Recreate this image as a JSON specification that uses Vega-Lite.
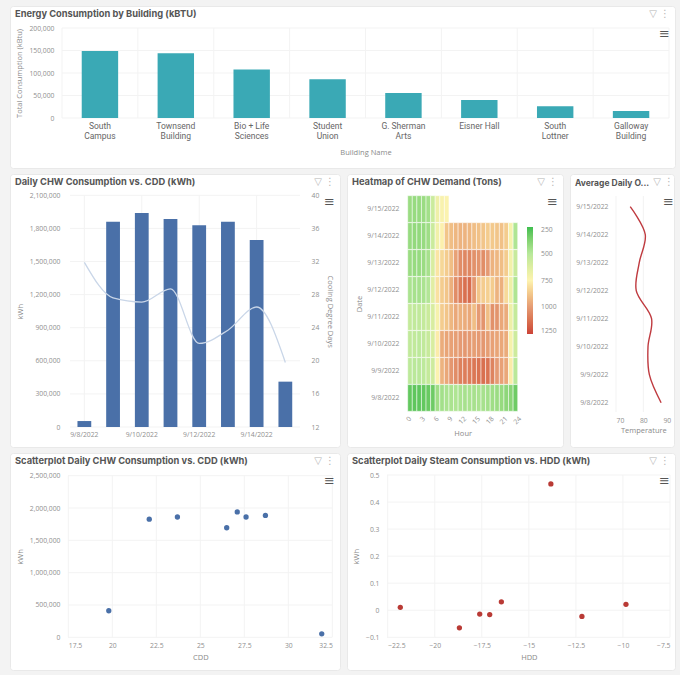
{
"$schema":"https://vega.github.io/schema/vega-lite/v6.json",
"background":"#f3f3f3",
"padding":{"left":9,"top":5,"right":6,"bottom":4},
"spacing":4,
"config":{
"view":{"fill":"white","stroke":"#e9e9e9","cornerRadius":3},
"axis":{"domain":false,"ticks":false,"grid":false,"labelFont":"Open Sans","labelFontSize":6.8,"labelColor":"#8f8f8f","titleFont":"Open Sans","titleFontSize":7.5,"titleColor":"#8a8a8a","titleFontWeight":"normal","labelOverlap":false,"labelPadding":3},
"title":{"anchor":"start","frame":"group","font":"Inter","fontSize":9.3,"fontWeight":"bold","color":"#555555","offset":-13,"dx":5,"baseline":"alphabetic"},
"rule":{"color":"#f3f3f3","strokeWidth":1},
"text":{"font":"DejaVu Sans"}
},
"datasets":{
"icons":[{"icon":"▽  ⋮","line":"top"},{"icon":"≡","line":"menu"}],
"daily":[
{"date":"9/8/2022","i":0,"kwh":54000,"cdd":31.9,"temp":86.5},
{"date":"9/9/2022","i":1,"kwh":1861000,"cdd":27.6,"temp":82.2},
{"date":"9/10/2022","i":2,"kwh":1940000,"cdd":27.1,"temp":81.7},
{"date":"9/11/2022","i":3,"kwh":1885000,"cdd":28.7,"temp":83},
{"date":"9/12/2022","i":4,"kwh":1828000,"cdd":22.1,"temp":77.4},
{"date":"9/13/2022","i":5,"kwh":1861000,"cdd":23.7,"temp":78.5},
{"date":"9/14/2022","i":6,"kwh":1695000,"cdd":26.5,"temp":80.7},
{"date":"9/15/2022","i":7,"kwh":411000,"cdd":19.8,"temp":75.2}
]
},
"vconcat":[
{
"title":"Energy Consumption by Building (kBTU)",
"width":665,"height":162,
"resolve":{"scale":{"x":"independent","y":"independent"},"axis":{"x":"independent","y":"independent"}},
"layer":[
{"data":{"values":[{"v":0},{"v":50000},{"v":100000},{"v":150000},{"v":200000}]},"mark":"rule","encoding":{
"y":{"field":"v","type":"quantitative","axis":null,"scale":{"domain":[0,200000],"range":[112,22]}},
"x":{"datum":0,"type":"quantitative","axis":null,"scale":{"domain":[0,1],"range":[52,659]}},"x2":{"datum":1}}},
{"data":{"values":[{"v":0},{"v":1},{"v":2},{"v":3},{"v":4},{"v":5},{"v":6},{"v":7},{"v":8}]},"mark":"rule","encoding":{
"x":{"field":"v","type":"quantitative","axis":null,"scale":{"domain":[0,8],"range":[52,659]}},
"y":{"datum":0,"type":"quantitative","axis":null,"scale":{"domain":[0,1],"range":[112,22]}},"y2":{"datum":1}}},
{"data":{"values":[
{"building":"South\nCampus","kbtu":148900},
{"building":"Townsend\nBuilding","kbtu":143700},
{"building":"Bio + Life\nSciences","kbtu":108000},
{"building":"Student\nUnion","kbtu":86000},
{"building":"G. Sherman\nArts","kbtu":55500},
{"building":"Eisner Hall","kbtu":40000},
{"building":"South\nLottner","kbtu":26000},
{"building":"Galloway\nBuilding","kbtu":15500}
]},"mark":{"type":"bar","color":"#3aa9b5"},"encoding":{
"x":{"field":"building","type":"nominal","sort":null,"title":"Building Name","scale":{"range":[52,659],"paddingInner":0.52,"paddingOuter":0.26},
"axis":{"orient":"bottom","offset":-50,"labelAngle":0,"labelExpr":"split(datum.value,'\\n')","labelFont":"Roboto","labelFontSize":8.5,"labelColor":"#666666","labelLineHeight":10,"labelPadding":3,"titlePadding":9}},
"y":{"field":"kbtu","type":"quantitative","title":"Total Consumption (kBtu)","scale":{"domain":[0,200000],"range":[112,22]},
"axis":{"orient":"left","offset":-47,"values":[0,50000,100000,150000,200000],"format":",.0f","titlePadding":5}}}},
{"data":{"name":"icons"},"mark":{"type":"text","align":"right","baseline":"middle"},"encoding":{
"text":{"field":"icon"},
"x":{"datum":1,"type":"quantitative","axis":null,"scale":{"domain":[0,1],"range":[0,660]}},
"y":{"field":"line","type":"nominal","axis":null,"scale":{"type":"point","domain":["top","menu"],"range":[8,28],"padding":0}},
"size":{"condition":{"test":"datum.line=='menu'","value":13},"value":10},
"color":{"condition":{"test":"datum.line=='menu'","value":"#555555"},"value":"#b5b5b5"}}}
]
},
{
"hconcat":[
{
"title":"Daily CHW Consumption vs. CDD (kWh)",
"width":330,"height":273,
"resolve":{"scale":{"x":"independent","y":"independent"},"axis":{"x":"independent","y":"independent"}},
"layer":[
{"data":{"values":[{"v":0},{"v":300000},{"v":600000},{"v":900000},{"v":1200000},{"v":1500000},{"v":1800000},{"v":2100000}]},"mark":"rule","encoding":{
"y":{"field":"v","type":"quantitative","axis":null,"scale":{"domain":[0,2100000],"range":[253,21.3]}},
"x":{"datum":0,"type":"quantitative","axis":null,"scale":{"domain":[0,1],"range":[60,290]}},"x2":{"datum":1}}},
{"data":{"values":[{"v":0.5},{"v":2.5},{"v":4.5},{"v":6.5}]},"mark":"rule","encoding":{
"x":{"field":"v","type":"quantitative","axis":null,"scale":{"domain":[0,8],"range":[60,289.7]}},
"y":{"datum":0,"type":"quantitative","axis":null,"scale":{"domain":[0,1],"range":[253,21.3]}},"y2":{"datum":1}}},
{"data":{"name":"daily"},"mark":{"type":"bar","color":"#4a70a8"},"encoding":{
"x":{"field":"date","type":"nominal","sort":null,"title":null,"scale":{"range":[60,289.7],"paddingInner":0.52,"paddingOuter":0.26},
"axis":{"orient":"bottom","offset":-20,"labelAngle":0,"labelPadding":4,"values":["9/8/2022","9/10/2022","9/12/2022","9/14/2022"]}},
"y":{"field":"kwh","type":"quantitative","title":"kWh","scale":{"domain":[0,2100000],"range":[253,21.3]},
"axis":{"orient":"left","offset":-53,"values":[0,300000,600000,900000,1200000,1500000,1800000,2100000],"format":",.0f","titlePadding":5}}}},
{"data":{"name":"daily"},"mark":{"type":"line","color":"#c9d6e8","strokeWidth":1.3,"interpolate":"monotone"},"encoding":{
"x":{"field":"date","type":"nominal","sort":null,"axis":null,"scale":{"range":[60,289.7],"paddingInner":0.52,"paddingOuter":0.26}},
"y":{"field":"cdd","type":"quantitative","title":"Cooling Degree Days","scale":{"domain":[12,40],"range":[253,21.3]},
"axis":{"orient":"right","offset":-34,"values":[12,16,20,24,28,32,36,40],"labelPadding":5,"titlePadding":7}}}},
{"data":{"name":"icons"},"mark":{"type":"text","align":"right","baseline":"middle"},"encoding":{
"text":{"field":"icon"},
"x":{"datum":1,"type":"quantitative","axis":null,"scale":{"domain":[0,1],"range":[0,325]}},
"y":{"field":"line","type":"nominal","axis":null,"scale":{"type":"point","domain":["top","menu"],"range":[8,28],"padding":0}},
"size":{"condition":{"test":"datum.line=='menu'","value":13},"value":10},
"color":{"condition":{"test":"datum.line=='menu'","value":"#555555"},"value":"#b5b5b5"}}}
]
},
{
"title":"Heatmap of CHW Demand (Tons)",
"width":216,"height":273,
"resolve":{"scale":{"x":"independent","y":"independent"},"axis":{"x":"independent","y":"independent"}},
"layer":[
{"data":{"values":[
{"d":"9/15/2022","h":0,"e":1,"t":430},{"d":"9/15/2022","h":1,"e":2,"t":420},{"d":"9/15/2022","h":2,"e":3,"t":420},{"d":"9/15/2022","h":3,"e":4,"t":430},{"d":"9/15/2022","h":4,"e":5,"t":450},{"d":"9/15/2022","h":5,"e":6,"t":560},{"d":"9/15/2022","h":6,"e":7,"t":690},{"d":"9/15/2022","h":7,"e":8,"t":730},{"d":"9/15/2022","h":8,"e":9,"t":740},
{"d":"9/14/2022","h":0,"e":1,"t":420},{"d":"9/14/2022","h":1,"e":2,"t":410},{"d":"9/14/2022","h":2,"e":3,"t":410},{"d":"9/14/2022","h":3,"e":4,"t":420},{"d":"9/14/2022","h":4,"e":5,"t":440},{"d":"9/14/2022","h":5,"e":6,"t":560},{"d":"9/14/2022","h":6,"e":7,"t":700},{"d":"9/14/2022","h":7,"e":8,"t":760},{"d":"9/14/2022","h":8,"e":9,"t":880},{"d":"9/14/2022","h":9,"e":10,"t":900},{"d":"9/14/2022","h":10,"e":11,"t":920},{"d":"9/14/2022","h":11,"e":12,"t":930},{"d":"9/14/2022","h":12,"e":13,"t":930},{"d":"9/14/2022","h":13,"e":14,"t":920},{"d":"9/14/2022","h":14,"e":15,"t":900},{"d":"9/14/2022","h":15,"e":16,"t":890},{"d":"9/14/2022","h":16,"e":17,"t":880},{"d":"9/14/2022","h":17,"e":18,"t":860},{"d":"9/14/2022","h":18,"e":19,"t":870},{"d":"9/14/2022","h":19,"e":20,"t":880},{"d":"9/14/2022","h":20,"e":21,"t":890},{"d":"9/14/2022","h":21,"e":22,"t":860},{"d":"9/14/2022","h":22,"e":23,"t":720},{"d":"9/14/2022","h":23,"e":24,"t":480},
{"d":"9/13/2022","h":0,"e":1,"t":430},{"d":"9/13/2022","h":1,"e":2,"t":420},{"d":"9/13/2022","h":2,"e":3,"t":420},{"d":"9/13/2022","h":3,"e":4,"t":430},{"d":"9/13/2022","h":4,"e":5,"t":460},{"d":"9/13/2022","h":5,"e":6,"t":610},{"d":"9/13/2022","h":6,"e":7,"t":790},{"d":"9/13/2022","h":7,"e":8,"t":830},{"d":"9/13/2022","h":8,"e":9,"t":860},{"d":"9/13/2022","h":9,"e":10,"t":900},{"d":"9/13/2022","h":10,"e":11,"t":980},{"d":"9/13/2022","h":11,"e":12,"t":1040},{"d":"9/13/2022","h":12,"e":13,"t":1060},{"d":"9/13/2022","h":13,"e":14,"t":1060},{"d":"9/13/2022","h":14,"e":15,"t":1030},{"d":"9/13/2022","h":15,"e":16,"t":1020},{"d":"9/13/2022","h":16,"e":17,"t":1040},{"d":"9/13/2022","h":17,"e":18,"t":1000},{"d":"9/13/2022","h":18,"e":19,"t":930},{"d":"9/13/2022","h":19,"e":20,"t":920},{"d":"9/13/2022","h":20,"e":21,"t":900},{"d":"9/13/2022","h":21,"e":22,"t":860},{"d":"9/13/2022","h":22,"e":23,"t":710},{"d":"9/13/2022","h":23,"e":24,"t":550},
{"d":"9/12/2022","h":0,"e":1,"t":470},{"d":"9/12/2022","h":1,"e":2,"t":460},{"d":"9/12/2022","h":2,"e":3,"t":460},{"d":"9/12/2022","h":3,"e":4,"t":470},{"d":"9/12/2022","h":4,"e":5,"t":490},{"d":"9/12/2022","h":5,"e":6,"t":640},{"d":"9/12/2022","h":6,"e":7,"t":800},{"d":"9/12/2022","h":7,"e":8,"t":860},{"d":"9/12/2022","h":8,"e":9,"t":880},{"d":"9/12/2022","h":9,"e":10,"t":940},{"d":"9/12/2022","h":10,"e":11,"t":1040},{"d":"9/12/2022","h":11,"e":12,"t":1090},{"d":"9/12/2022","h":12,"e":13,"t":1130},{"d":"9/12/2022","h":13,"e":14,"t":1140},{"d":"9/12/2022","h":14,"e":15,"t":1010},{"d":"9/12/2022","h":15,"e":16,"t":880},{"d":"9/12/2022","h":16,"e":17,"t":860},{"d":"9/12/2022","h":17,"e":18,"t":850},{"d":"9/12/2022","h":18,"e":19,"t":860},{"d":"9/12/2022","h":19,"e":20,"t":930},{"d":"9/12/2022","h":20,"e":21,"t":940},{"d":"9/12/2022","h":21,"e":22,"t":820},{"d":"9/12/2022","h":22,"e":23,"t":690},{"d":"9/12/2022","h":23,"e":24,"t":480},
{"d":"9/11/2022","h":0,"e":1,"t":540},{"d":"9/11/2022","h":1,"e":2,"t":530},{"d":"9/11/2022","h":2,"e":3,"t":530},{"d":"9/11/2022","h":3,"e":4,"t":540},{"d":"9/11/2022","h":4,"e":5,"t":560},{"d":"9/11/2022","h":5,"e":6,"t":610},{"d":"9/11/2022","h":6,"e":7,"t":720},{"d":"9/11/2022","h":7,"e":8,"t":860},{"d":"9/11/2022","h":8,"e":9,"t":880},{"d":"9/11/2022","h":9,"e":10,"t":920},{"d":"9/11/2022","h":10,"e":11,"t":960},{"d":"9/11/2022","h":11,"e":12,"t":940},{"d":"9/11/2022","h":12,"e":13,"t":950},{"d":"9/11/2022","h":13,"e":14,"t":960},{"d":"9/11/2022","h":14,"e":15,"t":900},{"d":"9/11/2022","h":15,"e":16,"t":1000},{"d":"9/11/2022","h":16,"e":17,"t":1020},{"d":"9/11/2022","h":17,"e":18,"t":900},{"d":"9/11/2022","h":18,"e":19,"t":1030},{"d":"9/11/2022","h":19,"e":20,"t":1020},{"d":"9/11/2022","h":20,"e":21,"t":960},{"d":"9/11/2022","h":21,"e":22,"t":950},{"d":"9/11/2022","h":22,"e":23,"t":690},{"d":"9/11/2022","h":23,"e":24,"t":540},
{"d":"9/10/2022","h":0,"e":1,"t":530},{"d":"9/10/2022","h":1,"e":2,"t":530},{"d":"9/10/2022","h":2,"e":3,"t":520},{"d":"9/10/2022","h":3,"e":4,"t":530},{"d":"9/10/2022","h":4,"e":5,"t":550},{"d":"9/10/2022","h":5,"e":6,"t":610},{"d":"9/10/2022","h":6,"e":7,"t":770},{"d":"9/10/2022","h":7,"e":8,"t":950},{"d":"9/10/2022","h":8,"e":9,"t":970},{"d":"9/10/2022","h":9,"e":10,"t":980},{"d":"9/10/2022","h":10,"e":11,"t":990},{"d":"9/10/2022","h":11,"e":12,"t":1000},{"d":"9/10/2022","h":12,"e":13,"t":1010},{"d":"9/10/2022","h":13,"e":14,"t":1000},{"d":"9/10/2022","h":14,"e":15,"t":990},{"d":"9/10/2022","h":15,"e":16,"t":1000},{"d":"9/10/2022","h":16,"e":17,"t":1010},{"d":"9/10/2022","h":17,"e":18,"t":990},{"d":"9/10/2022","h":18,"e":19,"t":980},{"d":"9/10/2022","h":19,"e":20,"t":970},{"d":"9/10/2022","h":20,"e":21,"t":960},{"d":"9/10/2022","h":21,"e":22,"t":950},{"d":"9/10/2022","h":22,"e":23,"t":720},{"d":"9/10/2022","h":23,"e":24,"t":570},
{"d":"9/9/2022","h":0,"e":1,"t":520},{"d":"9/9/2022","h":1,"e":2,"t":510},{"d":"9/9/2022","h":2,"e":3,"t":510},{"d":"9/9/2022","h":3,"e":4,"t":520},{"d":"9/9/2022","h":4,"e":5,"t":540},{"d":"9/9/2022","h":5,"e":6,"t":570},{"d":"9/9/2022","h":6,"e":7,"t":740},{"d":"9/9/2022","h":7,"e":8,"t":930},{"d":"9/9/2022","h":8,"e":9,"t":960},{"d":"9/9/2022","h":9,"e":10,"t":1010},{"d":"9/9/2022","h":10,"e":11,"t":1040},{"d":"9/9/2022","h":11,"e":12,"t":1080},{"d":"9/9/2022","h":12,"e":13,"t":1090},{"d":"9/9/2022","h":13,"e":14,"t":1090},{"d":"9/9/2022","h":14,"e":15,"t":1110},{"d":"9/9/2022","h":15,"e":16,"t":1120},{"d":"9/9/2022","h":16,"e":17,"t":1130},{"d":"9/9/2022","h":17,"e":18,"t":1120},{"d":"9/9/2022","h":18,"e":19,"t":1070},{"d":"9/9/2022","h":19,"e":20,"t":1000},{"d":"9/9/2022","h":20,"e":21,"t":980},{"d":"9/9/2022","h":21,"e":22,"t":960},{"d":"9/9/2022","h":22,"e":23,"t":770},{"d":"9/9/2022","h":23,"e":24,"t":510},
{"d":"9/8/2022","h":0,"e":1,"t":310},{"d":"9/8/2022","h":1,"e":2,"t":300},{"d":"9/8/2022","h":2,"e":3,"t":300},{"d":"9/8/2022","h":3,"e":4,"t":310},{"d":"9/8/2022","h":4,"e":5,"t":320},{"d":"9/8/2022","h":5,"e":6,"t":330},{"d":"9/8/2022","h":6,"e":7,"t":440},{"d":"9/8/2022","h":7,"e":8,"t":450},{"d":"9/8/2022","h":8,"e":9,"t":470},{"d":"9/8/2022","h":9,"e":10,"t":470},{"d":"9/8/2022","h":10,"e":11,"t":480},{"d":"9/8/2022","h":11,"e":12,"t":470},{"d":"9/8/2022","h":12,"e":13,"t":460},{"d":"9/8/2022","h":13,"e":14,"t":470},{"d":"9/8/2022","h":14,"e":15,"t":460},{"d":"9/8/2022","h":15,"e":16,"t":470},{"d":"9/8/2022","h":16,"e":17,"t":460},{"d":"9/8/2022","h":17,"e":18,"t":450},{"d":"9/8/2022","h":18,"e":19,"t":440},{"d":"9/8/2022","h":19,"e":20,"t":430},{"d":"9/8/2022","h":20,"e":21,"t":420},{"d":"9/8/2022","h":21,"e":22,"t":400},{"d":"9/8/2022","h":22,"e":23,"t":390},{"d":"9/8/2022","h":23,"e":24,"t":330}
]},"mark":{"type":"rect","stroke":"white","strokeWidth":0.5},"encoding":{
"x":{"field":"h","type":"quantitative","title":"Hour","scale":{"domain":[0,24],"range":[60.7,170.7]},
"axis":{"orient":"bottom","offset":-35.7,"values":[0,3,6,9,12,15,18,21,24],"labelAngle":-45,"labelPadding":4,"titlePadding":4}},
"x2":{"field":"e"},
"y":{"field":"d","type":"nominal","title":"Date","scale":{"domain":["9/15/2022","9/14/2022","9/13/2022","9/12/2022","9/11/2022","9/10/2022","9/9/2022","9/8/2022"],"range":[21.7,237.3],"paddingInner":0.01,"paddingOuter":0},
"axis":{"orient":"left","offset":-55,"titlePadding":3}},
"color":{"field":"t","type":"quantitative","scale":{"domain":[1250,1000,750,500,250],"range":["#cc4238","#e59a73","#fdf3b0","#b7e89a","#3dbe4f"]},
"legend":{"title":null,"orient":"none","legendX":517,"legendY":221,"direction":"vertical","gradientLength":107,"gradientThickness":6,"values":[250,500,750,1000,1250],"format":"d","labelFont":"Open Sans","labelFontSize":6.8,"labelColor":"#8f8f8f","labelOffset":8}}}},
{"data":{"name":"icons"},"mark":{"type":"text","align":"right","baseline":"middle"},"encoding":{
"text":{"field":"icon"},
"x":{"datum":1,"type":"quantitative","axis":null,"scale":{"domain":[0,1],"range":[0,211]}},
"y":{"field":"line","type":"nominal","axis":null,"scale":{"type":"point","domain":["top","menu"],"range":[8,28],"padding":0}},
"size":{"condition":{"test":"datum.line=='menu'","value":13},"value":10},
"color":{"condition":{"test":"datum.line=='menu'","value":"#555555"},"value":"#b5b5b5"}}}
]
},
{
"title":{"text":"Average Daily O...","fontSize":8.5},
"width":104,"height":273,
"resolve":{"scale":{"x":"independent","y":"independent"},"axis":{"x":"independent","y":"independent"}},
"layer":[
{"data":{"values":[{"v":70},{"v":80}]},"mark":"rule","encoding":{
"x":{"field":"v","type":"quantitative","axis":null,"scale":{"domain":[70,90],"range":[46,100.7]}},
"y":{"datum":0,"type":"quantitative","axis":null,"scale":{"domain":[0,1],"range":[238,22]}},"y2":{"datum":1}}},
{"data":{"name":"daily"},"mark":{"type":"line","color":"#bf3a3f","strokeWidth":1.4,"interpolate":"catmull-rom"},"encoding":{
"x":{"field":"temp","type":"quantitative","title":"Temperature","scale":{"domain":[70,90],"range":[46,100.7]},
"axis":{"orient":"bottom","offset":-35,"values":[70,80,90],"labelPadding":5,"titlePadding":3}},
"y":{"field":"date","type":"nominal","title":null,"scale":{"type":"point","domain":["9/15/2022","9/14/2022","9/13/2022","9/12/2022","9/11/2022","9/10/2022","9/9/2022","9/8/2022"],"range":[32.7,228.7],"padding":0},
"axis":{"orient":"left","offset":-41}},
"order":{"field":"i"}}},
{"data":{"name":"icons"},"mark":{"type":"text","align":"right","baseline":"middle"},"encoding":{
"text":{"field":"icon"},
"x":{"datum":1,"type":"quantitative","axis":null,"scale":{"domain":[0,1],"range":[0,104]}},
"y":{"field":"line","type":"nominal","axis":null,"scale":{"type":"point","domain":["top","menu"],"range":[8,28],"padding":0}},
"size":{"condition":{"test":"datum.line=='menu'","value":13},"value":10},
"color":{"condition":{"test":"datum.line=='menu'","value":"#555555"},"value":"#b5b5b5"}}}
]
}
],
"bounds":"flush",
"spacing":7
},
{
"hconcat":[
{
"title":"Scatterplot Daily CHW Consumption vs. CDD (kWh)",
"width":330,"height":217,
"resolve":{"scale":{"x":"independent","y":"independent"},"axis":{"x":"independent","y":"independent"}},
"layer":[
{"data":{"values":[{"v":0},{"v":500000},{"v":1000000},{"v":1500000},{"v":2000000},{"v":2500000}]},"mark":"rule","encoding":{
"y":{"field":"v","type":"quantitative","axis":null,"scale":{"domain":[0,2500000],"range":[184.3,22.7]}},
"x":{"datum":0,"type":"quantitative","axis":null,"scale":{"domain":[0,1],"range":[58,322]}},"x2":{"datum":1}}},
{"data":{"values":[{"v":17.5},{"v":20},{"v":22.5},{"v":25},{"v":27.5},{"v":30},{"v":32.5}]},"mark":"rule","encoding":{
"x":{"field":"v","type":"quantitative","axis":null,"scale":{"domain":[17.5,32.5],"range":[58.3,322.3]}},
"y":{"datum":0,"type":"quantitative","axis":null,"scale":{"domain":[0,1],"range":[184.3,22.7]}},"y2":{"datum":1}}},
{"data":{"name":"daily"},"mark":{"type":"point","filled":true,"color":"#4a70a8","opacity":1,"size":28},"encoding":{
"x":{"field":"cdd","type":"quantitative","title":"CDD","scale":{"domain":[17.5,32.5],"range":[58.3,322.3]},
"axis":{"orient":"bottom","offset":-32.7,"values":[17.5,20,22.5,25,27.5,30,32.5],"format":".1~f","labelPadding":5,"titlePadding":4}},
"y":{"field":"kwh","type":"quantitative","title":"kWh","scale":{"domain":[0,2500000],"range":[184.3,22.7]},
"axis":{"orient":"left","offset":-53,"values":[0,500000,1000000,1500000,2000000,2500000],"format":",.0f","titlePadding":5}}}},
{"data":{"name":"icons"},"mark":{"type":"text","align":"right","baseline":"middle"},"encoding":{
"text":{"field":"icon"},
"x":{"datum":1,"type":"quantitative","axis":null,"scale":{"domain":[0,1],"range":[0,325]}},
"y":{"field":"line","type":"nominal","axis":null,"scale":{"type":"point","domain":["top","menu"],"range":[8,28],"padding":0}},
"size":{"condition":{"test":"datum.line=='menu'","value":13},"value":10},
"color":{"condition":{"test":"datum.line=='menu'","value":"#555555"},"value":"#b5b5b5"}}}
]
},
{
"title":"Scatterplot Daily Steam Consumption vs. HDD (kWh)",
"width":328,"height":217,
"resolve":{"scale":{"x":"independent","y":"independent"},"axis":{"x":"independent","y":"independent"}},
"layer":[
{"data":{"values":[{"v":-0.1},{"v":0},{"v":0.1},{"v":0.2},{"v":0.3},{"v":0.4},{"v":0.5}]},"mark":"rule","encoding":{
"y":{"field":"v","type":"quantitative","axis":null,"scale":{"domain":[-0.1,0.5],"range":[184.3,22]}},
"x":{"datum":0,"type":"quantitative","axis":null,"scale":{"domain":[0,1],"range":[40,323]}},"x2":{"datum":1}}},
{"data":{"values":[{"v":-22.5},{"v":-20},{"v":-17.5},{"v":-15},{"v":-12.5},{"v":-10},{"v":-7.5}]},"mark":"rule","encoding":{
"x":{"field":"v","type":"quantitative","axis":null,"scale":{"domain":[-22.5,-7.5],"range":[40.7,323]}},
"y":{"datum":0,"type":"quantitative","axis":null,"scale":{"domain":[0,1],"range":[184.3,22]}},"y2":{"datum":1}}},
{"data":{"values":[
{"hdd":-21.83,"kwh":0.011},{"hdd":-18.69,"kwh":-0.065},{"hdd":-17.61,"kwh":-0.014},{"hdd":-17.08,"kwh":-0.016},
{"hdd":-16.46,"kwh":0.031},{"hdd":-13.83,"kwh":0.467},{"hdd":-12.18,"kwh":-0.023},{"hdd":-9.84,"kwh":0.022}
]},"mark":{"type":"point","filled":true,"color":"#b93a35","opacity":1,"size":28},"encoding":{
"x":{"field":"hdd","type":"quantitative","title":"HDD","scale":{"domain":[-22.5,-7.5],"range":[40.7,323]},
"axis":{"orient":"bottom","offset":-32.7,"values":[-22.5,-20,-17.5,-15,-12.5,-10,-7.5],"format":".1~f","labelPadding":5,"titlePadding":4}},
"y":{"field":"kwh","type":"quantitative","title":"kWh","scale":{"domain":[-0.1,0.5],"range":[184.3,22]},
"axis":{"orient":"left","offset":-35,"values":[-0.1,0,0.1,0.2,0.3,0.4,0.5],"format":".1~f","titlePadding":5}}}},
{"data":{"name":"icons"},"mark":{"type":"text","align":"right","baseline":"middle"},"encoding":{
"text":{"field":"icon"},
"x":{"datum":1,"type":"quantitative","axis":null,"scale":{"domain":[0,1],"range":[0,323]}},
"y":{"field":"line","type":"nominal","axis":null,"scale":{"type":"point","domain":["top","menu"],"range":[8,28],"padding":0}},
"size":{"condition":{"test":"datum.line=='menu'","value":13},"value":10},
"color":{"condition":{"test":"datum.line=='menu'","value":"#555555"},"value":"#b5b5b5"}}}
]
}
],
"bounds":"flush",
"spacing":7
}
]
}
